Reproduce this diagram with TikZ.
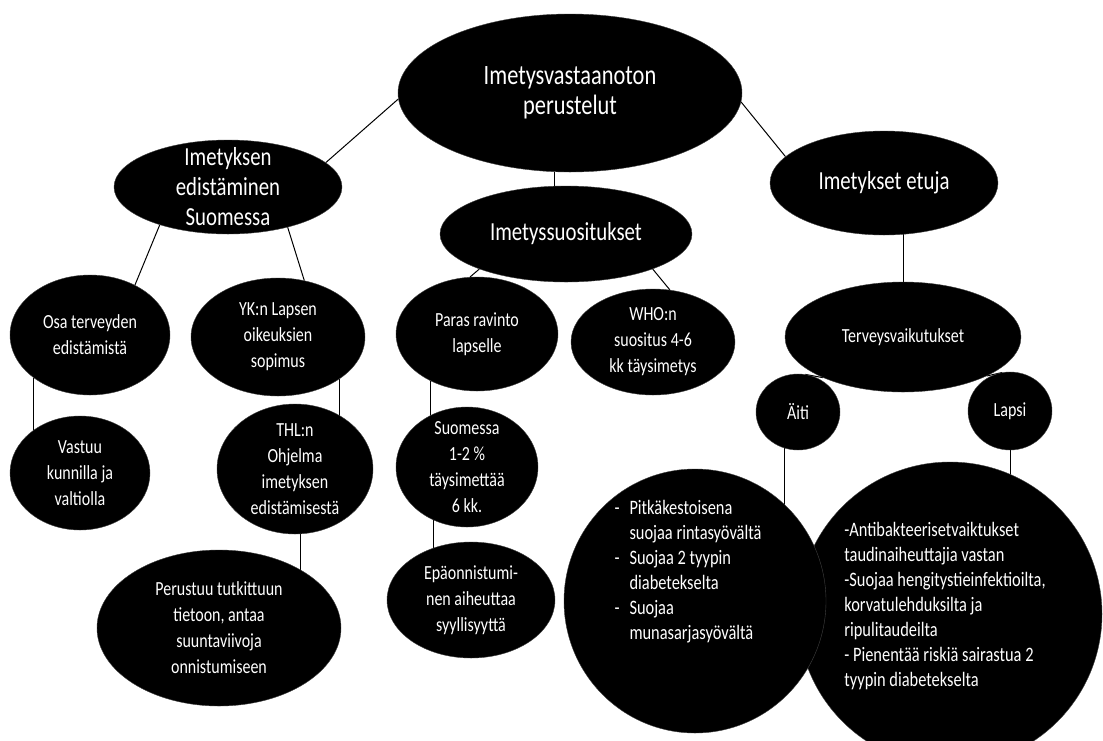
\documentclass[tikz,border=0pt]{standalone}
\usepackage{fontspec}
\setmainfont{Carlito}[FakeStretch=0.8]
\usetikzlibrary{shapes.geometric, backgrounds}

\begin{document}
\begin{tikzpicture}[
        x=1pt, y=-1pt,
        bubble/.style={ellipse, fill=black, draw=black!75, text=white, align=center, inner sep=-12pt},
        dims/.style 2 args={minimum width=#1pt, minimum height=#2pt},
        topfont/.style={font=\fontsize{28}{30}\selectfont},
        midfont/.style={font=\fontsize{26}{30}\selectfont},
        leaffont/.style={font=\fontsize{20}{26}\selectfont},
        listtext/.style={text=white, align=left, inner sep=0pt, font=\fontsize{20.5}{25}\selectfont},
        link/.style={draw=black, line width=1pt}
    ]
        \useasboundingbox (0,0) rectangle (1103,740);

        \node[bubble, topfont, dims={344}{158}] (root) at (570,93) {Imetysvastaanoton\\perustelut};
        \node[bubble, midfont, dims={228}{94}] (edist) at (228,187) {Imetyksen\\edistäminen\\Suomessa};
        \node[bubble, midfont, dims={252}{96}] (suos) at (566,234) {Imetyssuositukset};
        \node[bubble, midfont, dims={228}{104}] (etuja) at (884,183) {Imetykset etuja};

        \node[bubble, leaffont, dims={160}{120}] (osa) at (90,335) {Osa terveyden\\edistämistä};
        \node[bubble, leaffont, dims={174}{118}] (yk) at (278,337) {YK:n Lapsen\\oikeuksien\\sopimus};
        \node[bubble, leaffont, dims={162}{114}] (paras) at (477,334) {Paras ravinto\\lapselle};
        \node[bubble, leaffont, dims={164}{106}] (who) at (653,342) {WHO:n\\suositus 4-6\\kk täysimetys};
        \node[bubble, leaffont, dims={236}{110}] (terv) at (903,337) {Terveysvaikutukset};

        \node[bubble, leaffont, dims={140}{114}] (vastuu) at (80,473) {Vastuu\\kunnilla ja\\valtiolla};
        \node[bubble, leaffont, dims={156}{130}] (thl) at (295,469) {THL:n\\Ohjelma\\imetyksen\\edistämisestä};
        \node[bubble, leaffont, dims={142}{120}] (suomi) at (467,467) {Suomessa\\1-2 \%\\täysimettää\\6 kk.};
        \node[bubble, leaffont, dims={244}{156}] (perus) at (219,628) {Perustuu tutkittuun\\tietoon, antaa\\suuntaviivoja\\onnistumiseen};
        \node[bubble, leaffont, dims={168}{116}] (epa) at (471,600) {Epäonnistumi-\\nen aiheuttaa\\syyllisyyttä};

        \node[bubble, leaffont, dims={84}{76}] (aiti) at (798,412) {Äiti};
        \node[bubble, leaffont, dims={84}{78}] (lapsi) at (1010,411) {Lapsi};

        \node[bubble, dims={304}{304}] (lapsiinfo) at (950,614) {};
        \node[bubble, dims={262}{264}] (aitiinfo) at (695,601) {};
        \node[listtext] (aitilista) at (688,572) {\begin{tabular}{@{}l@{\hspace{10pt}}l@{}}
            - & Pitkäkestoisena\\ & suojaa rintasyövältä\\
            - & Suojaa 2 tyypin\\ & diabetekselta\\
            - & Suojaa\\ & munasarjasyövältä\end{tabular}};
        \node[listtext] (lapsilista) at (945,606) {-Antibakteerisetvaiktukset\\taudinaiheuttajia vastan\\-Suojaa hengitystieinfektioilta,\\korvatulehduksilta ja\\ripulitaudeilta\\- Pienentää riskiä sairastua 2\\tyypin diabetekselta};

        \begin{scope}[on background layer]
            \draw[link] (root.182) -- (edist.14);
            \draw[link] (root.-101) -- (root.-101 |- suos.center);
            \draw[link] (root.-3) -- (etuja.165);
            \draw[link] (edist.209) -- (osa.48);
            \draw[link] (edist.-34) -- (yk.65);
            \draw[link] (suos.202) -- (paras.97);
            \draw[link] (suos.-22) -- (who.72);
            \draw[link] (terv.north) -- (terv.north |- etuja.center);
            \draw[link] (osa.south west) -- (osa.south west |- vastuu.center);
            \draw[link] (yk.south east) -- (yk.south east |- thl.center);
            \draw[link] (thl.-85) -- (thl.-85 |- perus.center);
            \draw[link] (paras.-135) -- (paras.-135 |- suomi.center);
            \draw[link] (suomi.-122) -- (suomi.-122 |- epa.center);
            \draw[link] (terv.207) -- (aiti.79);
            \draw[link] (terv.-25) -- (lapsi.102);
            \draw[link] (aiti.-110) -- (aiti.-110 |- aitiinfo.center);
            \draw[link] (lapsi.south) -- (lapsi.south |- lapsiinfo.center);
        \end{scope}
    \end{tikzpicture}
\end{document}
